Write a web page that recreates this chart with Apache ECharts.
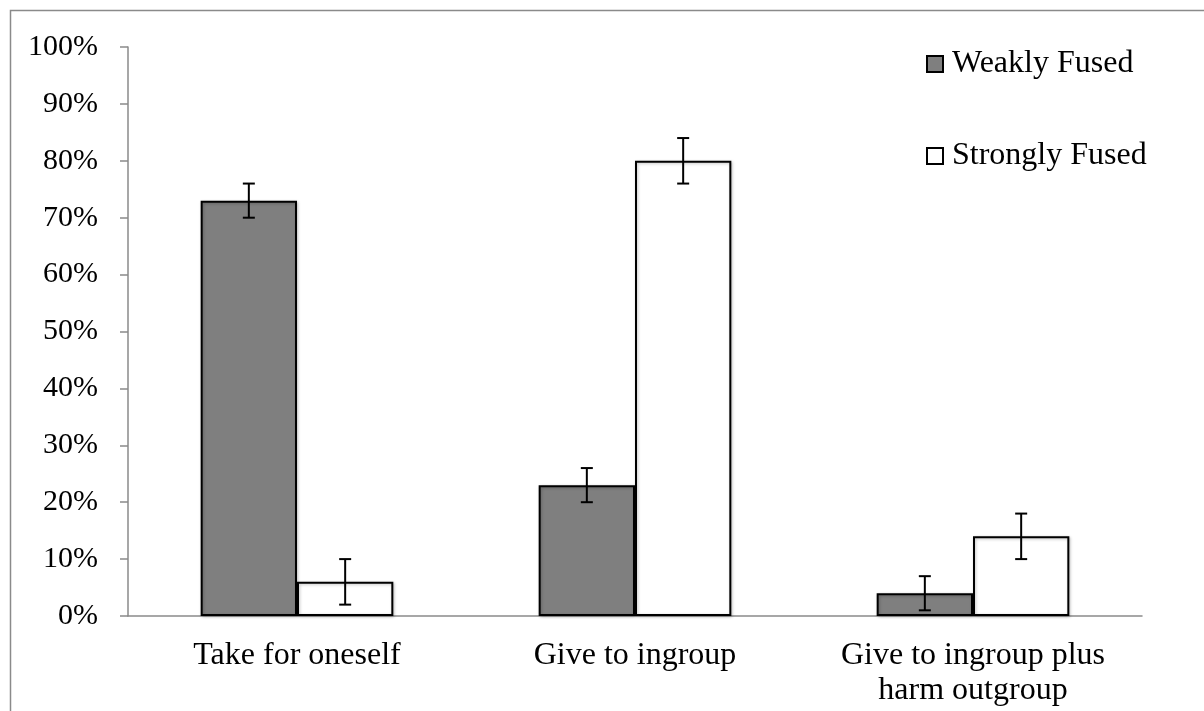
<!DOCTYPE html>
<html>
<head>
<meta charset="utf-8">
<script src="https://cdn.jsdelivr.net/npm/echarts@6/dist/echarts.min.js"></script>
<style>html,body{margin:0;padding:0;background:#fff}#c{width:1204px;height:711px}</style>
</head>
<body>
<div id="c"></div>
<script>
const categories = ['Take for oneself', 'Give to ingroup', 'Give to ingroup plus\nharm outgroup'];
const seriesNames = ['Weakly Fused', 'Strongly Fused'];
const weakly = [73, 23, 4];
const strongly = [6, 80, 14];
const weaklyErr = [3, 3, 3];
const stronglyErr = [4, 4, 4];
const yMin = 0, yMax = 100, yStep = 10;

const FONT = 'Liberation Serif';
const GAP = 0.43;

function errSeries(name, vals, errs, side) {
  return {
    type: 'custom',
    name: name + ' err',
    z: 5,
    silent: true,
    data: vals.map((v, i) => [i, v, errs[i]]),
    renderItem: function (params, api) {
      const x = api.value(0), v = api.value(1), e = api.value(2);
      const hi = api.coord([x, v + e]);
      const lo = api.coord([x, v - e]);
      const catW = api.size([1, 0])[0];
      const bw = catW * (1 - GAP) / 2;
      const cx = hi[0] + side * bw / 2;
      const cap = 6;
      const st = { stroke: '#000', lineWidth: 2 };
      return {
        type: 'group',
        children: [
          { type: 'line', shape: { x1: cx, y1: hi[1], x2: cx, y2: lo[1] }, style: st },
          { type: 'line', shape: { x1: cx - cap, y1: hi[1], x2: cx + cap, y2: hi[1] }, style: st },
          { type: 'line', shape: { x1: cx - cap, y1: lo[1], x2: cx + cap, y2: lo[1] }, style: st }
        ]
      };
    }
  };
}

const chart = echarts.init(document.getElementById('c'));
chart.setOption({
  animation: false,
  backgroundColor: '#fff',
  graphic: [{
    type: 'rect', left: 8, top: 8, silent: true,
    shape: { width: 1400, height: 900 },
    style: { fill: 'none', stroke: '#8a8a8a', lineWidth: 1.5 }
  }],
  grid: { left: 128, right: 62, top: 47, bottom: 95 },
  legend: {
    data: seriesNames,
    orient: 'vertical',
    left: 921, top: 43,
    itemGap: 60,
    itemWidth: 16, itemHeight: 16,
    icon: 'rect',
    textStyle: { fontFamily: FONT, fontSize: 32, color: '#000', padding: [0, 0, 0, 4] }
  },
  xAxis: {
    type: 'category',
    data: categories,
    axisLine: { lineStyle: { color: '#8a8a8a', width: 1.5 } },
    axisTick: { length: 8, lineStyle: { color: '#8a8a8a', width: 1.5 } },
    axisLabel: { fontFamily: FONT, fontSize: 32, color: '#000', margin: 22, lineHeight: 35, interval: 0 }
  },
  yAxis: {
    type: 'value', min: yMin, max: yMax, interval: yStep,
    splitLine: { show: false },
    axisLine: { show: true, lineStyle: { color: '#8a8a8a', width: 1.5 } },
    axisTick: { show: true, length: 8, lineStyle: { color: '#8a8a8a', width: 1.5 } },
    axisLabel: { fontFamily: FONT, fontSize: 30, color: '#000', margin: 30, formatter: '{value}%' }
  },
  series: [
    {
      type: 'bar', name: seriesNames[0], data: weakly,
      barGap: '0%', barCategoryGap: (GAP * 100) + '%',
      itemStyle: { color: '#7f7f7f', borderColor: '#000', borderWidth: 2,
        shadowColor: 'rgba(0,0,0,0.25)', shadowBlur: 3, shadowOffsetX: 1, shadowOffsetY: 1 }
    },
    {
      type: 'bar', name: seriesNames[1], data: strongly,
      barGap: '0%', barCategoryGap: (GAP * 100) + '%',
      itemStyle: { color: '#ffffff', borderColor: '#000', borderWidth: 2,
        shadowColor: 'rgba(0,0,0,0.25)', shadowBlur: 3, shadowOffsetX: 1, shadowOffsetY: 1 }
    },
    errSeries(seriesNames[0], weakly, weaklyErr, -1),
    errSeries(seriesNames[1], strongly, stronglyErr, 1)
  ]
});
</script>
</body>
</html>
